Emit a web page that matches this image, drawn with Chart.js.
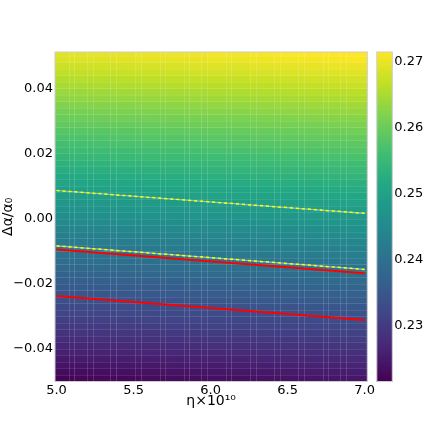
<!DOCTYPE html>
<html>
<head>
<meta charset="utf-8">
<script src="https://cdn.jsdelivr.net/npm/chart.js@4.4.0/dist/chart.umd.min.js"></script>
<style>
    body { margin: 0; background: #fff; }
</style>
</head>
<body>
<canvas id="chart" width="436" height="436"></canvas>
<script>
// 열 경계 (eta x 10^10)
const xEdges = [4.990, 5.079, 5.115, 5.196, 5.234, 5.349, 5.387, 5.512, 5.550, 5.669, 5.704, 5.827, 5.861, 5.938,
    5.976, 6.100, 6.134, 6.254, 6.292, 6.411, 6.450, 6.569, 6.603, 6.727, 6.761, 6.843, 6.881, 7.017];
// 행 경계 (delta alpha / alpha0)
const yEdges = [-0.050, -0.048, -0.046, -0.044, -0.042, -0.040, -0.038, -0.036, -0.034, -0.032, -0.030, -0.028,
    -0.026, -0.024, -0.022, -0.020, -0.018, -0.016, -0.014, -0.012, -0.010, -0.008, -0.006, -0.004, -0.002, 0.000,
    0.002, 0.004, 0.006, 0.008, 0.010, 0.012, 0.014, 0.016, 0.018, 0.020, 0.022, 0.024, 0.026, 0.028, 0.030, 0.032,
    0.034, 0.036, 0.038, 0.040, 0.042, 0.044, 0.046, 0.048, 0.050, 0.0511];
// 행별 값 (왼쪽 끝 기준)
const rowValues = [0.2222, 0.2231, 0.2241, 0.2250, 0.2260, 0.2269, 0.2279, 0.2288, 0.2298, 0.2307, 0.2317, 0.2326,
    0.2336, 0.2345, 0.2354, 0.2364, 0.2373, 0.2383, 0.2392, 0.2402, 0.2411, 0.2421, 0.2430, 0.2440, 0.2449, 0.2459,
    0.2468, 0.2477, 0.2487, 0.2496, 0.2506, 0.2515, 0.2525, 0.2534, 0.2544, 0.2553, 0.2563, 0.2572, 0.2581, 0.2591,
    0.2600, 0.2610, 0.2619, 0.2629, 0.2638, 0.2648, 0.2657, 0.2667, 0.2676, 0.2686, 0.2692];
// 열별 증가분
const colShift = [0.0000, 0.0001, 0.0002, 0.0003, 0.0004, 0.0005, 0.0006, 0.0007, 0.0008, 0.0009, 0.0010, 0.0011,
    0.0012, 0.0012, 0.0014, 0.0015, 0.0015, 0.0017, 0.0018, 0.0019, 0.0020, 0.0021, 0.0022, 0.0023, 0.0023, 0.0024, 0.0025];

// 선 데이터
const lineX = [5.0, 7.0];
const yellowUpper = [0.0086, 0.0016];
const yellowLower = [-0.0084, -0.0156];
const redUpper = [-0.0095, -0.0168];
const redLower = [-0.0238, -0.0311];

// 눈금
const xTicks = [5.0, 5.5, 6.0, 6.5, 7.0];
const yTicks = [-0.04, -0.02, 0.00, 0.02, 0.04];
const cbTicks = [0.23, 0.24, 0.25, 0.26, 0.27];
const cbMin = 0.2216;
const cbMax = 0.2714;

const viridisStops = ['#440154', '#482475', '#414487', '#355f8d', '#2a788e', '#21918c',
    '#22a884', '#44bf70', '#7ad151', '#bddf26', '#fde725'];

function hexToRgb(h) {
    return [parseInt(h.slice(1, 3), 16), parseInt(h.slice(3, 5), 16), parseInt(h.slice(5, 7), 16)];
}
const viridisRgb = viridisStops.map(hexToRgb);

function viridis(v) {
    let t = (v - cbMin) / (cbMax - cbMin);
    t = Math.max(0, Math.min(1, t)) * (viridisRgb.length - 1);
    const i = Math.min(Math.floor(t), viridisRgb.length - 2);
    const f = t - i;
    const a = viridisRgb[i], b = viridisRgb[i + 1];
    return 'rgb(' + [0, 1, 2].map(k => Math.round(a[k] + (b[k] - a[k]) * f)).join(',') + ')';
}

function fmt(v) {
    const s = Math.abs(v).toFixed(2);
    return (v < -1e-9 ? '\u2212' : '') + s;
}

// 히트맵 + 컬러바
const heatmapPlugin = {
    id: 'heatmap',
    beforeDatasetsDraw(chart) {
        const {ctx, chartArea: a} = chart;
        const xs = chart.scales.x, ys = chart.scales.y, cb = chart.scales.cb;
        ctx.save();
        ctx.beginPath();
        ctx.rect(a.left, a.top, a.right - a.left, a.bottom - a.top);
        ctx.clip();
        for (let j = 0; j < rowValues.length; j++) {
            const yb = ys.getPixelForValue(yEdges[j]);
            const yt = ys.getPixelForValue(yEdges[j + 1]);
            for (let i = 0; i < colShift.length; i++) {
                const xl = xs.getPixelForValue(xEdges[i]);
                const xr = xs.getPixelForValue(xEdges[i + 1]);
                ctx.fillStyle = viridis(rowValues[j] + colShift[i]);
                ctx.fillRect(xl, yt, xr - xl + 0.6, yb - yt + 0.6);
            }
        }
        // 셀 경계선
        ctx.lineWidth = 1;
        ctx.strokeStyle = 'rgba(255,255,255,0.14)';
        for (let i = 1; i < xEdges.length - 1; i++) {
            const px = Math.round(xs.getPixelForValue(xEdges[i])) + 0.5;
            ctx.beginPath();
            ctx.moveTo(px, a.top);
            ctx.lineTo(px, a.bottom);
            ctx.stroke();
        }
        ctx.strokeStyle = 'rgba(255,255,255,0.09)';
        for (let j = 1; j < yEdges.length - 1; j++) {
            const py = Math.round(ys.getPixelForValue(yEdges[j])) + 0.5;
            ctx.beginPath();
            ctx.moveTo(a.left, py);
            ctx.lineTo(a.right, py);
            ctx.stroke();
        }
        ctx.restore();

        // 컬러바
        const cbLeft = a.right + 9.5;
        const cbWidth = 15.5;
        ctx.save();
        for (let py = Math.floor(cb.top); py < cb.bottom; py++) {
            ctx.fillStyle = viridis(cb.getValueForPixel(py + 0.5));
            ctx.fillRect(cbLeft, py, cbWidth, 1);
        }
        ctx.strokeStyle = '#cccccc';
        ctx.lineWidth = 1;
        ctx.strokeRect(cbLeft, cb.top, cbWidth, cb.bottom - cb.top);
        ctx.restore();
    },
    afterDraw(chart) {
        const {ctx, chartArea: a} = chart;
        ctx.save();
        ctx.strokeStyle = '#cccccc';
        ctx.lineWidth = 1;
        ctx.strokeRect(a.left, a.top, a.right - a.left, a.bottom - a.top);
        ctx.restore();
    }
};

function pts(ys) {
    return lineX.map((x, i) => ({x: x, y: ys[i]}));
}

Chart.defaults.font.family = "'DejaVu Sans', sans-serif";
Chart.defaults.font.size = 13;
Chart.defaults.color = '#000';

new Chart(document.getElementById('chart'), {
    type: 'line',
    data: {
        datasets: [
            {data: pts(yellowUpper), borderColor: '#ffff00', borderWidth: 1.5, borderDash: [3, 3], order: 0},
            {data: pts(yellowLower), borderColor: '#ffff00', borderWidth: 1.5, borderDash: [3, 3], order: 0},
            {data: pts(yellowUpper), borderColor: 'rgba(220,230,200,0.6)', borderWidth: 1.2, order: 1},
            {data: pts(yellowLower), borderColor: 'rgba(220,230,200,0.6)', borderWidth: 1.2, order: 1},
            {data: pts(redUpper), borderColor: '#ff0000', borderWidth: 2, order: 2},
            {data: pts(redLower), borderColor: '#ff0000', borderWidth: 2, order: 2}
        ]
    },
    options: {
        responsive: false,
        animation: false,
        events: [],
        layout: {padding: {top: 52, left: 0, right: 0, bottom: 0}},
        elements: {point: {radius: 0}, line: {tension: 0}},
        plugins: {legend: {display: false}, tooltip: {enabled: false}},
        scales: {
            x: {
                type: 'linear',
                min: 4.99,
                max: 7.017,
                grid: {display: false, drawTicks: false},
                border: {display: false},
                afterBuildTicks: axis => { axis.ticks = xTicks.map(v => ({value: v})); },
                afterFit: axis => { axis.height = 54.5; },
                ticks: {padding: 1, maxRotation: 0, callback: v => v.toFixed(1)},
                title: {display: true, text: '\u03b7\u00d710\u00b9\u2070', font: {size: 14}, padding: {top: 0, bottom: 26}}
            },
            y: {
                type: 'linear',
                min: -0.050,
                max: 0.0511,
                grid: {display: false, drawTicks: false},
                border: {display: false},
                afterBuildTicks: axis => { axis.ticks = yTicks.map(v => ({value: v})); },
                afterFit: axis => { axis.width = 55; },
                ticks: {padding: 2, callback: v => fmt(v)},
                title: {display: true, text: '\u0394\u03b1/\u03b1\u2080', font: {size: 14}, padding: {top: 0, bottom: 0}}
            },
            cb: {
                type: 'linear',
                position: 'right',
                min: cbMin,
                max: cbMax,
                grid: {display: false, drawTicks: false},
                border: {display: false},
                afterBuildTicks: axis => { axis.ticks = cbTicks.map(v => ({value: v})); },
                afterFit: axis => { axis.width = 68.7; },
                ticks: {padding: 27, callback: v => v.toFixed(2)}
            }
        }
    },
    plugins: [heatmapPlugin]
});
</script>
</body>
</html>
